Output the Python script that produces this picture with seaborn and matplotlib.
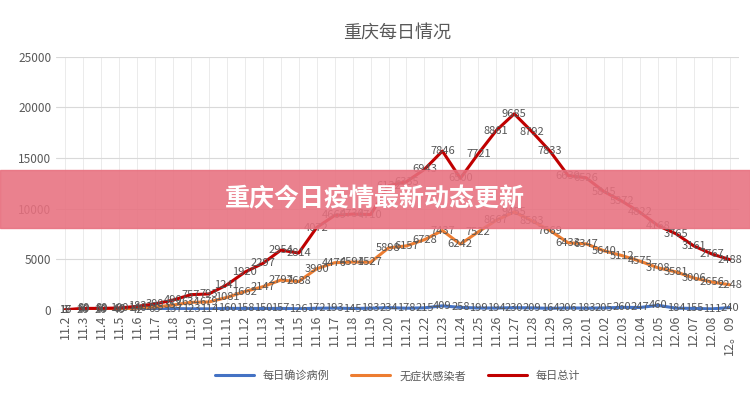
import seaborn as sns
import matplotlib.pyplot as plt
import pandas as pd

dates = ['11.2', '11.3', '11.4', '11.5', '11.6', '11.7', '11.8', '11.9', '11.10', '11.11',
         '11.12', '11.13', '11.14', '11.15', '11.16', '11.17', '11.18', '11.19', '11.20', '11.21',
         '11.22', '11.23', '11.24', '11.25', '11.26', '11.27', '11.28', '11.29', '11.30', '12.01',
         '12.02', '12.03', '12.04', '12.05', '12.06', '12.07', '12.08', '12。09']
confirmed = [16, 20, 20, 40, 42, 65, 137, 123, 114, 160, 158, 150, 157, 126, 172, 193, 145, 183, 234,
             178, 215, 409, 258, 199, 194, 230, 209, 164, 206, 183, 205, 260, 247, 460, 184, 155, 111, 240]
asymptomatic = [1, 60, 60, 60, 140, 235, 353, 634, 679, 1081, 1662, 2147, 2797, 2688, 3900, 4476, 4591,
                4527, 5898, 6157, 6728, 7437, 6242, 7522, 8667, 9455, 8583, 7669, 6433, 6347, 5640,
                5112, 4575, 3708, 3581, 3006, 2656, 2248]
total = [17, 80, 80, 100, 182, 300, 490, 757, 793, 1241, 1920, 2297, 2954, 2814, 4072, 4669, 4736,
         4710, 6132, 6335, 6943, 7846, 6500, 7721, 8861, 9685, 8792, 7833, 6639, 6526, 5845, 5372,
         4822, 4168, 3765, 3161, 2767, 2488]

# stacked line chart: each series drawn on top of the previous ones
y1 = confirmed
y2 = [a + b for a, b in zip(confirmed, asymptomatic)]
y3 = [a + b for a, b in zip(y2, total)]
df = pd.DataFrame({'x': range(len(dates)), 'y1': y1, 'y2': y2, 'y3': y3})

sns.set_style('white')
plt.rcParams['font.family'] = ['Noto Sans CJK SC', 'DejaVu Sans']

fig, ax = plt.subplots(figsize=(7.5, 4), dpi=100)
fig.subplots_adjust(left=0.075, right=0.985, top=0.858, bottom=0.225)

series = [('y1', confirmed, '#4472C4', '每日确诊病例'),
          ('y2', asymptomatic, '#ED7D31', '无症状感染者'),
          ('y3', total, '#C00000', '每日总计')]
for col, raw, color, name in series:
    sns.lineplot(data=df, x='x', y=col, color=color, linewidth=2.2, label=name, ax=ax)
    for i, v in enumerate(raw):
        ax.text(i, df[col][i], str(v), ha='center', va='center', fontsize=8, color='#555555')

ax.set_xlim(-0.5, len(dates) - 0.5)
ax.set_ylim(0, 25000)
ax.set_yticks(range(0, 25001, 5000))
ax.set_xticks(range(len(dates)))
ax.set_xticklabels(dates, rotation=90, fontsize=9, color='#595959')
ax.tick_params(axis='y', labelsize=8.5, labelcolor='#595959', length=0)
ax.tick_params(axis='x', length=0)
ax.set_xlabel('')
ax.set_ylabel('')
ax.grid(axis='y', color='#D9D9D9', linewidth=0.8)
ax.grid(axis='x', color='#E8E8E8', linewidth=0.6)
for s in ax.spines.values():
    s.set_visible(False)
ax.set_title('重庆每日情况', fontsize=13, color='#595959', pad=14)
ax.legend(loc='upper center', bbox_to_anchor=(0.5, -0.2), ncol=3, frameon=False, fontsize=8,
          labelcolor='#595959', handlelength=3.5)

# banner overlay
fig.patches.append(plt.Rectangle((0, 0.43), 1, 0.145, transform=fig.transFigure,
                                 color='#E8707F', alpha=0.88, zorder=5))
fig.text(0.5, 0.503, '重庆今日疫情最新动态更新', ha='center', va='center', fontsize=18,
         fontweight='bold', color='white', zorder=6)

plt.savefig('out.png')
